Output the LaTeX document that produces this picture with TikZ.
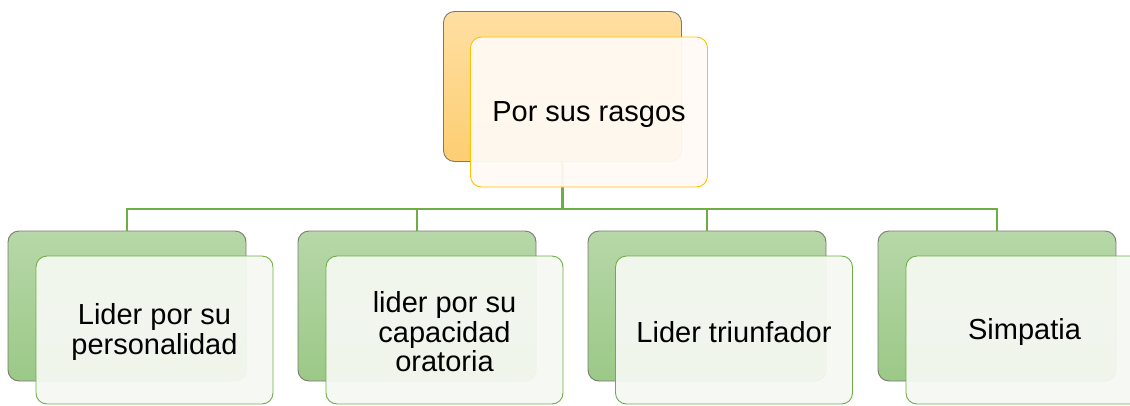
\documentclass[tikz,border=0pt]{standalone}
\usepackage{fontspec}
\setmainfont{Liberation Sans}
\definecolor{orTop}{HTML}{FEDFA2}
\definecolor{orBot}{HTML}{FDCE72}
\definecolor{orLine}{HTML}{FFC000}
\definecolor{orFill}{HTML}{FFFAF4}
\definecolor{grTop}{HTML}{B7D7A8}
\definecolor{grBot}{HTML}{9BC987}
\definecolor{grLine}{HTML}{70AD47}
\definecolor{grFill}{HTML}{F5F8F2}
\definecolor{edge}{HTML}{7A7A6E}
\tikzset{
  backbox/.style={rectangle, rounded corners=11pt, draw=edge, line width=0.9pt,
    minimum width=238pt, minimum height=150pt, inner sep=0pt},
  topback/.style={backbox, top color=orTop, bottom color=orBot},
  grback/.style={backbox, top color=grTop, bottom color=grBot},
  frontbox/.style={rectangle, rounded corners=11pt, line width=0.9pt,
    minimum width=237pt, minimum height=150pt, inner sep=0pt, fill opacity=0.95,
    text opacity=1, align=center, font=\fontsize{29}{29.5}\selectfont},
  topfront/.style={frontbox, draw=orLine, fill=orFill},
  grfront/.style={frontbox, draw=grLine, fill=grFill, minimum height=148pt},
  conn/.style={draw=grLine, line width=2.5pt}
}
\begin{document}
\begin{tikzpicture}[x=1pt,y=-1pt]
\useasboundingbox (0,0) rectangle (1130,405);
\clip (0,0) rectangle (1130,405);
% back boxes
\node[topback] (tb) at (562.5,86.5) {};
\node[grback] (b1) at (127,306) {};
\node[grback] (b2) at (417,306) {};
\node[grback] (b3) at (707,306) {};
\node[grback] (b4) at (997,306) {};
% connectors
\coordinate (hub) at (562.5,209);
\draw[conn] (tb.south) -- (hub);
\draw[conn] (hub) -| (b1.north);
\draw[conn] (hub) -| (b2.north);
\draw[conn] (hub) -| (b3.north);
\draw[conn] (hub) -| (b4.north);
% front boxes
\node[topfront] (tf) at (589,112) {\rule{0pt}{25pt}Por sus rasgos};
\node[grfront] (f1) at (154.5,330) {\rule{0pt}{25pt}Lider por su\\personalidad};
\node[grfront] (f2) at (444.5,330) {\rule{0pt}{25pt}lider por su\\capacidad\\oratoria};
\node[grfront] (f3) at (734,330) {\rule{0pt}{25pt}Lider triunfador};
\node[grfront] (f4) at (1024.5,330) {\rule{0pt}{25pt}Simpatia};
\end{tikzpicture}
\end{document}
